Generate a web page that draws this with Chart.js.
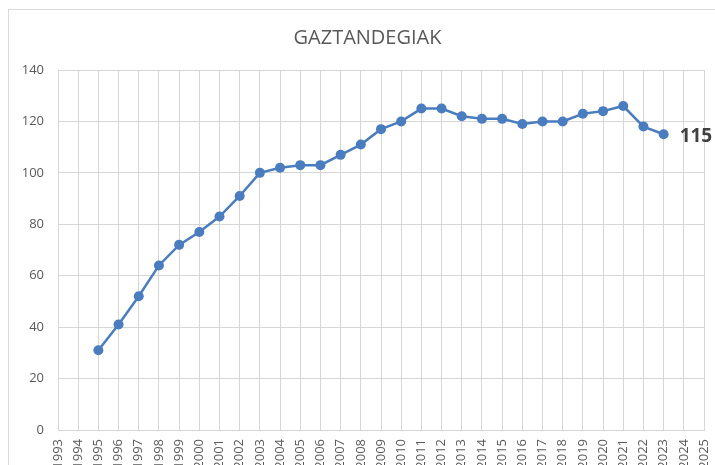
<!DOCTYPE html>
<html>
<head>
<meta charset="utf-8">
<script src="https://cdn.jsdelivr.net/npm/chart.js@4"></script>
<style>
    html, body { margin: 0; padding: 0; background: #fff; overflow: hidden; }
    #frame { position: absolute; left: 8px; top: 9px; width: 800px; height: 600px; border: 1px solid #d9d9d9; }
    #wrap { position: absolute; left: 0; top: 0; width: 715px; height: 465px; }
</style>
</head>
<body>
<div id="frame"></div>
<div id="wrap"><canvas id="cheeseChart" width="715" height="465"></canvas></div>
<script>
const years = ['1993', '1994', '1995', '1996', '1997', '1998', '1999', '2000', '2001', '2002', '2003',
    '2004', '2005', '2006', '2007', '2008', '2009', '2010', '2011', '2012', '2013', '2014', '2015',
    '2016', '2017', '2018', '2019', '2020', '2021', '2022', '2023', '2024', '2025'];
const cheeseDairies = [null, null, 31, 41, 52, 64, 72, 77, 83, 91, 100,
    102, 103, 103, 107, 111, 117, 120, 125, 125, 122, 121, 121,
    119, 120, 120, 123, 124, 126, 118, 115, null, null];
const yTicks = [0, 20, 40, 60, 80, 100, 120, 140];
const chartTitle = 'GAZTANDEGIAK';

(function() {
    const textColor = '#595959';
    const gridColor = '#d6d6d6';
    const fontFamily = '"Open Sans", "Noto Sans", sans-serif';

    // title sits over the whole frame (not the plot), and the last value gets a label
    const extraText = {
        id: 'extraText',
        afterDraw(chart) {
            const ctx = chart.ctx;
            ctx.save();
            ctx.font = '20px ' + fontFamily;
            ctx.fillStyle = textColor;
            ctx.textAlign = 'center';
            ctx.textBaseline = 'middle';
            ctx.fillText(chartTitle, chart.width / 2 + 10, 38);
            ctx.restore();
        },
        afterDatasetsDraw(chart) {
            const data = chart.data.datasets[0].data;
            let idx = -1;
            data.forEach(function(v, i) { if (v !== null) { idx = i; } });
            if (idx < 0) {
                return;
            }
            const pt = chart.getDatasetMeta(0).data[idx];
            const ctx = chart.ctx;
            ctx.save();
            ctx.font = 'bold 19px ' + fontFamily;
            ctx.fillStyle = '#404040';
            ctx.textAlign = 'left';
            ctx.textBaseline = 'middle';
            ctx.fillText(String(data[idx]), pt.x + 16, pt.y + 2);
            ctx.restore();
        }
    };

    new Chart(document.getElementById('cheeseChart'), {
        type: 'line',
        data: {
            labels: years,
            datasets: [{
                label: chartTitle,
                data: cheeseDairies,
                borderColor: '#4a7cc0',
                backgroundColor: '#4a7cc0',
                borderWidth: 2.5,
                pointRadius: 5,
                pointHoverRadius: 5,
                pointBorderWidth: 0,
                tension: 0,
                fill: false
            }]
        },
        options: {
            responsive: false,
            animation: false,
            events: [],
            layout: { padding: { left: 0, right: 11, top: 70, bottom: 0 } },
            plugins: {
                legend: { display: false },
                tooltip: { enabled: false },
                title: { display: false }
            },
            scales: {
                x: {
                    type: 'category',
                    offset: false,
                    grid: { color: gridColor, lineWidth: 1, drawTicks: false },
                    border: { color: gridColor },
                    ticks: {
                        color: textColor,
                        autoSkip: false,
                        minRotation: 90,
                        maxRotation: 90,
                        padding: 9,
                        font: { family: fontFamily, size: 13 }
                    },
                    afterFit: function(scale) {
                        scale.height = 35;
                        scale.paddingLeft = 0;
                        scale.paddingRight = 0;
                    }
                },
                y: {
                    min: 0,
                    max: 140,
                    afterBuildTicks: function(scale) {
                        scale.ticks = yTicks.map(function(v) { return { value: v }; });
                    },
                    grid: { color: gridColor, lineWidth: 1, drawTicks: false },
                    border: { color: gridColor },
                    ticks: {
                        color: textColor,
                        padding: 14,
                        font: { family: fontFamily, size: 13 }
                    },
                    afterFit: function(scale) { scale.width = 58; }
                }
            }
        },
        plugins: [extraText]
    });
})();
</script>
</body>
</html>
